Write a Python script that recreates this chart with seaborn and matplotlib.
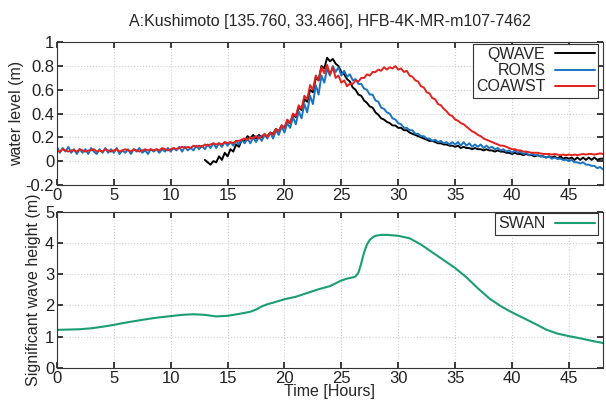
import numpy as np
import pandas as pd
import matplotlib
matplotlib.use("Agg")
import matplotlib.pyplot as plt
import seaborn as sns

# ---------------- data ----------------
time_wl = np.arange(0, 48.001, 0.25)  # hours, 0.25 h step (193 samples)

coawst = [0.09, 0.08, 0.10, 0.09,  0.08, 0.09, 0.09, 0.08,  0.10, 0.09, 0.08, 0.09,
          0.09, 0.10, 0.08, 0.09,  0.08, 0.10, 0.09, 0.08,  0.09, 0.10, 0.08, 0.09,
          0.10, 0.09, 0.08, 0.10,  0.09, 0.08, 0.09, 0.10,  0.09, 0.10, 0.09, 0.10,
          0.09, 0.11, 0.10, 0.09,  0.10, 0.11, 0.10, 0.11,  0.12, 0.11, 0.12, 0.11,
          0.13, 0.12, 0.13, 0.12,  0.14, 0.13, 0.14, 0.15,  0.14, 0.15, 0.14, 0.16,
          0.15, 0.16, 0.15, 0.17,  0.17, 0.18, 0.19, 0.18,  0.20, 0.19, 0.21, 0.19,
          0.21, 0.23, 0.20, 0.24,  0.22, 0.27, 0.25, 0.30,  0.28, 0.35, 0.32, 0.40,
          0.38, 0.47, 0.44, 0.55,  0.52, 0.64, 0.60, 0.72,  0.68, 0.79, 0.74, 0.81,
          0.73, 0.79, 0.70, 0.72,  0.66, 0.68, 0.63, 0.65,  0.65, 0.68, 0.67, 0.70,
          0.70, 0.73, 0.72, 0.75,  0.75, 0.77, 0.76, 0.79,  0.77, 0.79, 0.78, 0.80,
          0.77, 0.78, 0.75, 0.76,  0.72, 0.71, 0.68, 0.67,  0.63, 0.62, 0.58, 0.57,
          0.53, 0.52, 0.48, 0.47,  0.44, 0.42, 0.39, 0.38,  0.35, 0.34, 0.32, 0.31,
          0.29, 0.27, 0.25, 0.24,  0.22, 0.21, 0.19, 0.18,  0.17, 0.16, 0.15, 0.14,
          0.13, 0.13, 0.12, 0.11,  0.10, 0.10, 0.09, 0.09,  0.08, 0.08, 0.075, 0.07,
          0.07, 0.07, 0.065, 0.06, 0.06, 0.06, 0.055, 0.06, 0.055, 0.05, 0.055, 0.05,
          0.055, 0.05, 0.055, 0.05, 0.055, 0.06, 0.055, 0.06, 0.06, 0.055, 0.06, 0.065,
          0.06]

roms = [0.12, 0.07, 0.11, 0.08,  0.12, 0.07, 0.10, 0.06,  0.10, 0.07, 0.10, 0.06,
        0.11, 0.08, 0.06, 0.10,  0.07, 0.11, 0.07, 0.10,  0.07, 0.11, 0.06, 0.09,
        0.07, 0.10, 0.06, 0.10,  0.08, 0.11, 0.07, 0.09,  0.06, 0.10, 0.08, 0.10,
        0.07, 0.10, 0.08, 0.11,  0.08, 0.11, 0.09, 0.12,  0.08, 0.12, 0.09, 0.11,
        0.09, 0.13, 0.10, 0.13,  0.10, 0.14, 0.11, 0.15,  0.11, 0.15, 0.12, 0.16,
        0.13, 0.16, 0.13, 0.17,  0.14, 0.18, 0.15, 0.19,  0.15, 0.20, 0.16, 0.21,
        0.17, 0.22, 0.19, 0.24,  0.19, 0.26, 0.22, 0.29,  0.24, 0.32, 0.28, 0.37,
        0.31, 0.42, 0.36, 0.48,  0.41, 0.55, 0.48, 0.64,  0.56, 0.72, 0.66, 0.78,
        0.72, 0.80, 0.75, 0.79,  0.72, 0.76, 0.71, 0.73,  0.68, 0.69, 0.65, 0.65,
        0.61, 0.60, 0.56, 0.56,  0.51, 0.50, 0.45, 0.44,  0.41, 0.40, 0.36, 0.35,
        0.32, 0.31, 0.28, 0.28,  0.26, 0.26, 0.23, 0.23,  0.21, 0.21, 0.19, 0.19,
        0.17, 0.18, 0.16, 0.17,  0.15, 0.16, 0.14, 0.16,  0.14, 0.16, 0.13, 0.16,
        0.13, 0.15, 0.12, 0.14,  0.12, 0.14, 0.11, 0.13,  0.11, 0.12, 0.10, 0.11,
        0.09, 0.10, 0.08, 0.09,  0.07, 0.09, 0.07, 0.08,  0.06, 0.07, 0.05, 0.06,
        0.05, 0.05, 0.04, 0.04,  0.03, 0.04, 0.02, 0.03,  0.02, 0.02, 0.01, 0.01,
        0.00, 0.01, -0.01, -0.01, -0.02, -0.01, -0.03, -0.03, -0.04, -0.04, -0.06, -0.05,
        -0.07]

# QWAVE starts at 13 h (same 0.25 h step)
qwave_t0 = 13.0
qwave = [0.01, -0.01, -0.03, 0.00,  -0.01, 0.04, 0.01, 0.07,  0.04, 0.10, 0.08, 0.14,
         0.12, 0.18, 0.17, 0.21,  0.19, 0.22, 0.19, 0.22,  0.20, 0.22, 0.21, 0.24,
         0.23, 0.27, 0.25, 0.30,  0.28, 0.34, 0.32, 0.39,  0.37, 0.45, 0.43, 0.52,
         0.50, 0.60, 0.58, 0.70,  0.68, 0.80, 0.78, 0.87,  0.84, 0.86, 0.82, 0.80,
         0.75, 0.73, 0.69, 0.67,  0.62, 0.60, 0.56, 0.55,  0.51, 0.49, 0.46, 0.45,
         0.41, 0.39, 0.36, 0.35,  0.33, 0.32, 0.30, 0.30,  0.28, 0.28, 0.26, 0.26,
         0.24, 0.23, 0.22, 0.21,  0.20, 0.19, 0.18, 0.17,  0.17, 0.16, 0.15, 0.15,
         0.14, 0.14, 0.13, 0.13,  0.12, 0.13, 0.11, 0.12,  0.11, 0.11, 0.10, 0.11,
         0.10, 0.10, 0.09, 0.10,  0.09, 0.09, 0.08, 0.09,  0.08, 0.08, 0.07, 0.07,
         0.06, 0.07, 0.06, 0.06,  0.05, 0.06, 0.05, 0.05,  0.04, 0.05, 0.04, 0.04,
         0.03, 0.04, 0.03, 0.04,  0.02, 0.04, 0.02, 0.03,  0.02, 0.03, 0.01, 0.03,
         0.01, 0.03, 0.01, 0.03,  0.01, 0.03, 0.01, 0.02,
         0.02]

swan_t = [0, 1, 2, 3, 4, 5, 6, 7, 8, 9, 10, 11, 12, 13, 14, 15, 16, 17, 17.5,
          18, 18.5, 19, 20, 21, 22, 23, 24, 25, 25.5, 26, 26.25, 26.5, 26.75,
          27, 27.25, 27.5, 27.75, 28, 28.5, 29, 30, 31, 32, 33, 34, 35, 36,
          37, 38, 39, 40, 41, 42, 43, 44, 45, 46, 47, 48]
swan = [1.22, 1.23, 1.24, 1.27, 1.32, 1.38, 1.45, 1.51, 1.57, 1.62, 1.66,
        1.70, 1.72, 1.70, 1.65, 1.67, 1.73, 1.80, 1.87, 1.97, 2.04, 2.09,
        2.20, 2.28, 2.40, 2.52, 2.62, 2.80, 2.86, 2.90, 2.93, 3.05, 3.35,
        3.70, 3.95, 4.10, 4.18, 4.23, 4.26, 4.26, 4.23, 4.15, 3.95, 3.70,
        3.45, 3.20, 2.90, 2.55, 2.23, 1.98, 1.78, 1.60, 1.42, 1.23, 1.10,
        1.02, 0.95, 0.87, 0.80]

title = "A:Kushimoto [135.760, 33.466], HFB-4K-MR-m107-7462"

# ---------------- tables ----------------
t_q = time_wl[time_wl >= qwave_t0 - 1e-9]
df_wl = pd.concat([
    pd.DataFrame({"t": t_q, "v": qwave, "s": "QWAVE"}),
    pd.DataFrame({"t": time_wl, "v": roms, "s": "ROMS"}),
    pd.DataFrame({"t": time_wl, "v": coawst, "s": "COAWST"}),
])
df_sw = pd.DataFrame({"t": swan_t, "v": swan, "s": "SWAN"})

# ---------------- style ----------------
sns.set_theme(style="ticks")
plt.rcParams["font.family"] = ["Liberation Sans", "DejaVu Sans"]
plt.rcParams.update({
    "xtick.direction": "in", "ytick.direction": "in",
    "xtick.top": True, "ytick.right": True,
    "xtick.major.size": 4, "ytick.major.size": 4,
    "axes.edgecolor": "#333333", "axes.linewidth": 0.8,
})

palette = {"QWAVE": "#000000", "ROMS": "#1a73c0", "COAWST": "#e3221e", "SWAN": "#1a9e72"}

fig = plt.figure(figsize=(6.06, 4.01), dpi=100)
ax1 = fig.add_axes([0.094, 0.539, 0.901, 0.3555])
ax2 = fig.add_axes([0.094, 0.0823, 0.901, 0.3897])

sns.lineplot(data=df_wl, x="t", y="v", hue="s", palette=palette, ax=ax1,
             linewidth=1.4, sort=False, estimator=None)
sns.lineplot(data=df_sw, x="t", y="v", hue="s", palette=palette, ax=ax2,
             linewidth=1.5, sort=False, estimator=None)

for ax in (ax1, ax2):
    ax.set_xlim(0, 48)
    ax.set_xticks(range(0, 46, 5))
    ax.grid(True, color="#d0d0d0", linestyle=":", linewidth=0.8)
    ax.tick_params(labelsize=12, pad=2, colors="#222222")
    leg = ax.legend(loc="upper right", bbox_to_anchor=(0.991, 0.99),
                    borderaxespad=0, markerfirst=False, fontsize=11.5,
                    frameon=True, fancybox=False, framealpha=1,
                    edgecolor="#333333",
                    handlelength=2.5, handletextpad=0.6, borderpad=0.2,
                    labelspacing=0.08)
    leg.get_frame().set_linewidth(0.8)

ax1.set_ylim(-0.2, 1.0)
ax1.set_yticks([-0.2, 0, 0.2, 0.4, 0.6, 0.8, 1])
ax1.set_yticklabels(["-0.2", "0", "0.2", "0.4", "0.6", "0.8", "1"])
ax1.set_xlabel("")
ax1.set_ylabel("water level (m)", fontsize=11.5, labelpad=1)
ax1.set_title(title, fontsize=11.5, pad=12)

ax2.set_ylim(0, 5)
ax2.set_yticks([0, 1, 2, 3, 4, 5])
ax2.set_xlabel("Time [Hours]", fontsize=11.5, labelpad=-1)
ax2.set_ylabel("Significant wave height (m)", fontsize=11.5, labelpad=3)

fig.savefig("out.png", dpi=100)
